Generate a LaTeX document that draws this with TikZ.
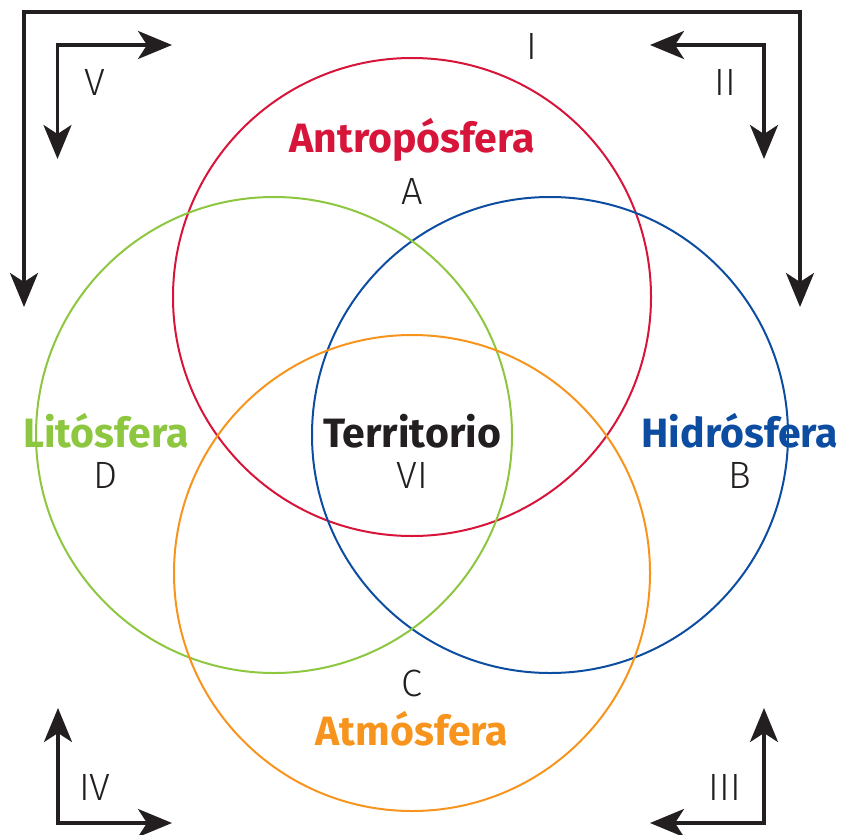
\documentclass[tikz,border=0pt]{standalone}
\usepackage{fontspec}
\setmainfont{Fira Sans}
\newfontfamily\thinfont{Fira Sans Light}
\usetikzlibrary{arrows.meta}
\definecolor{cred}{HTML}{D7153A}
\definecolor{cblue}{HTML}{0D4DA1}
\definecolor{cgreen}{HTML}{8DC63F}
\definecolor{corange}{HTML}{F7941D}
\definecolor{cdark}{HTML}{231F20}
\tikzset{
  ring/.style={line width=2pt},
  dblarrow/.style={draw=cdark, line width=3.4pt, {Stealth[length=34pt,width=28pt,inset=9pt]}-{Stealth[length=34pt,width=28pt,inset=9pt]}},
  title/.style={font=\bfseries\fontsize{41}{44}\selectfont, anchor=base, inner sep=0pt},
  letter/.style={font=\thinfont\fontsize{38}{40}\selectfont, text=cdark, anchor=base, inner sep=0pt},
}
\begin{document}
\begin{tikzpicture}[x=1pt,y=-1pt]
\useasboundingbox (0,0) rectangle (842,834);
% circles
\draw[ring, cred] (412,297) circle[radius=239];
\draw[ring, cblue] (550,435) circle[radius=238];
\draw[ring, cgreen] (274,435) circle[radius=238];
\draw[ring, corange] (412,573) circle[radius=238];
% frame arrow
\coordinate (fl) at (24,307);
\coordinate (fr) at (800,307);
\draw[dblarrow] (fl) -- (24,12) -- (800,12) -- (fr);
% corner arrows
\coordinate (tla) at (57.5,159); \coordinate (tlb) at (172,45);
\draw[dblarrow] (tla) -- (57.5,45) -- (tlb);
\coordinate (tra) at (650,45); \coordinate (trb) at (764,159);
\draw[dblarrow] (tra) -- (764,45) -- (trb);
\coordinate (bla) at (58,708); \coordinate (blb) at (172,823);
\draw[dblarrow] (bla) -- (58,823) -- (blb);
\coordinate (bra) at (764,708); \coordinate (brb) at (650,823);
\draw[dblarrow] (bra) -- (764,823) -- (brb);
% titles
\node[title, text=cred] (antro) at (412,153) {Antropósfera};
\node[title, text=cgreen] (lito) at (106,447) {Litósfera};
\node[title, text=cdark] (terr) at (412,447) {Territorio};
\node[title, text=cblue] (hidro) at (740,447) {Hidrósfera};
\node[title, text=corange] (atmo) at (412,745) {Atmósfera};
% letters
\node[letter] (la) at (412,205) {A};
\node[letter] (ld) at (106,488) {D};
\node[letter] (lvi) at (412,488) {VI};
\node[letter] (lb) at (740,488) {B};
\node[letter] (lc) at (412,696) {C};
\node[letter] (li) at (532,60) {I};
\node[letter] (lii) at (725,96) {II};
\node[letter] (lv) at (95,96) {V};
\node[letter] (liv) at (95,800) {IV};
\node[letter] (liii) at (725,800) {III};
\end{tikzpicture}
\end{document}
